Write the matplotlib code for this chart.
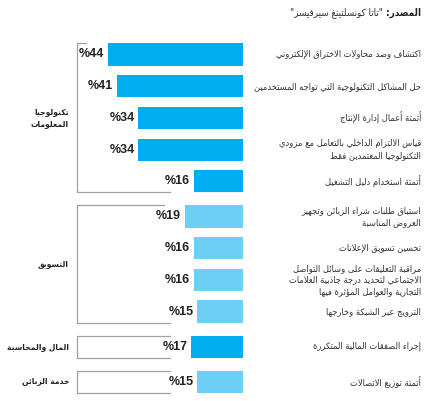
import matplotlib
matplotlib.use("Agg")
import matplotlib.pyplot as plt
from matplotlib.transforms import blended_transform_factory

# --- data ---
labels = [
    ["اكتشاف وصد محاولات الاختراق الإلكتروني"],
    ["حل المشاكل التكنولوجية التي تواجه المستخدمين"],
    ["أتمتة أعمال إدارة الإنتاج"],
    ["قياس الالتزام الداخلي بالتعامل مع مزودي", "التكنولوجيا المعتمدين فقط"],
    ["أتمتة استخدام دليل التشغيل"],
    ["استباق طلبات شراء الزبائن وتجهيز", "العروض المناسبة"],
    ["تحسين تسويق الإعلانات"],
    ["مراقبة التعليقات على وسائل التواصل", "الاجتماعي لتحديد درجة جاذبية العلامات", "التجارية والعوامل المؤثرة فيها"],
    ["الترويج عبر الشبكة وخارجها"],
    ["إجراء الصفقات المالية المتكررة"],
    ["أتمتة توزيع الاتصالات"],
]
values = [44, 41, 34, 34, 16, 19, 16, 16, 15, 17, 15]
group_of = [0, 0, 0, 0, 0, 1, 1, 1, 1, 2, 3]
group_names = [["تكنولوجيا", "المعلومات"], ["التسويق"], ["المال والمحاسبة"], ["خدمة الزبائن"]]
group_colors = ["#00aeef", "#6dcff6", "#00aeef", "#6dcff6"]
source_label = "المصدر:"
source_text = "\"تاتا كونسلتينغ سيرفيسز\""

# --- minimal arabic shaping (matplotlib has no complex text layout) ---
F = {
    'ء': (0xFE80,), 'آ': (0xFE81, 0xFE82), 'أ': (0xFE83, 0xFE84), 'ؤ': (0xFE85, 0xFE86),
    'إ': (0xFE87, 0xFE88), 'ئ': (0xFE89, 0xFE8A, 0xFE8B, 0xFE8C), 'ا': (0xFE8D, 0xFE8E),
    'ب': (0xFE8F, 0xFE90, 0xFE91, 0xFE92), 'ة': (0xFE93, 0xFE94),
    'ت': (0xFE95, 0xFE96, 0xFE97, 0xFE98), 'ث': (0xFE99, 0xFE9A, 0xFE9B, 0xFE9C),
    'ج': (0xFE9D, 0xFE9E, 0xFE9F, 0xFEA0), 'ح': (0xFEA1, 0xFEA2, 0xFEA3, 0xFEA4),
    'خ': (0xFEA5, 0xFEA6, 0xFEA7, 0xFEA8), 'د': (0xFEA9, 0xFEAA), 'ذ': (0xFEAB, 0xFEAC),
    'ر': (0xFEAD, 0xFEAE), 'ز': (0xFEAF, 0xFEB0), 'س': (0xFEB1, 0xFEB2, 0xFEB3, 0xFEB4),
    'ش': (0xFEB5, 0xFEB6, 0xFEB7, 0xFEB8), 'ص': (0xFEB9, 0xFEBA, 0xFEBB, 0xFEBC),
    'ض': (0xFEBD, 0xFEBE, 0xFEBF, 0xFEC0), 'ط': (0xFEC1, 0xFEC2, 0xFEC3, 0xFEC4),
    'ظ': (0xFEC5, 0xFEC6, 0xFEC7, 0xFEC8), 'ع': (0xFEC9, 0xFECA, 0xFECB, 0xFECC),
    'غ': (0xFECD, 0xFECE, 0xFECF, 0xFED0), 'ف': (0xFED1, 0xFED2, 0xFED3, 0xFED4),
    'ق': (0xFED5, 0xFED6, 0xFED7, 0xFED8), 'ك': (0xFED9, 0xFEDA, 0xFEDB, 0xFEDC),
    'ل': (0xFEDD, 0xFEDE, 0xFEDF, 0xFEE0), 'م': (0xFEE1, 0xFEE2, 0xFEE3, 0xFEE4),
    'ن': (0xFEE5, 0xFEE6, 0xFEE7, 0xFEE8), 'ه': (0xFEE9, 0xFEEA, 0xFEEB, 0xFEEC),
    'و': (0xFEED, 0xFEEE), 'ى': (0xFEEF, 0xFEF0), 'ي': (0xFEF1, 0xFEF2, 0xFEF3, 0xFEF4),
    'لآ': (0xFEF5, 0xFEF6), 'لأ': (0xFEF7, 0xFEF8), 'لإ': (0xFEF9, 0xFEFA), 'لا': (0xFEFB, 0xFEFC),
}


def ar(text):
    toks = []
    i = 0
    while i < len(text):
        if text[i] == 'ل' and i + 1 < len(text) and text[i:i + 2] in F:
            toks.append(text[i:i + 2])
            i += 2
        else:
            toks.append(text[i])
            i += 1
    out = []
    for k, t in enumerate(toks):
        f = F.get(t)
        if f is None:
            out.append(t)
            continue
        prev = toks[k - 1] if k > 0 else None
        nxt = toks[k + 1] if k + 1 < len(toks) else None
        jp = prev is not None and len(F.get(prev, ())) == 4
        jn = len(f) == 4 and nxt is not None and len(F.get(nxt, ())) >= 2
        if len(f) == 1:
            idx = 0
        elif len(f) == 2:
            idx = 1 if jp else 0
        else:
            idx = (3 if jn else 1) if jp else (2 if jn else 0)
        out.append(chr(f[idx]))
    return "".join(out)[::-1]


# --- layout ---
W, H = 427, 401
gap = 0.11
ypos = [i + gap * g for i, g in enumerate(group_of)]
bar_h = 0.7
px_per_unit = 31.7
ax_left, ax_right = 77, 243
top_px = 54.5 - 0.5 * px_per_unit
bot_px = top_px + (ypos[-1] + 1) * px_per_unit

fig = plt.figure(figsize=(W / 100, H / 100), dpi=100)
ax = fig.add_axes([ax_left / W, 1 - bot_px / H, (ax_right - ax_left) / W, (bot_px - top_px) / H])
ax.set_xlim(54, 0)
ax.set_ylim(ypos[-1] + 0.5, -0.5)
ax.axis("off")

colors = [group_colors[g] for g in group_of]
ax.barh(ypos, values, height=bar_h, color=colors)

for y, v in zip(ypos, values):
    ax.annotate("%" + str(v), (v, y), xytext=(-2.5, 0), textcoords="offset points",
                ha="right", va="center", fontsize=9, fontweight="bold",
                family=["Liberation Sans", "DejaVu Sans"], color="#222222")

ar_font = dict(family="DejaVu Sans", fontstretch="condensed")
tr = blended_transform_factory(fig.transFigure, ax.transData)
for y, lines in zip(ypos, labels):
    txt = "\n".join(ar(s) for s in lines)
    fig.text(421 / W, y, txt, transform=tr, ha="right", va="center", fontsize=6.7,
             color="#333333", linespacing=1.38, **ar_font)

# group brackets
line_kw = dict(color="#a0a0a0", lw=0.9, clip_on=False)
for g, name in enumerate(group_names):
    ys = [y for y, gg in zip(ypos, group_of) if gg == g]
    y0, y1 = ys[0] - bar_h / 2, ys[-1] + bar_h / 2
    top_end = {0: 51, 1: 25.7}.get(g, 23.8)
    ax.plot([top_end, 54, 54, 23.8], [y0, y0, y1, y1], **line_kw)
    fig.text(69 / W, (y0 + y1) / 2, "\n".join(ar(s) for s in name), transform=tr,
             ha="right", va="center", fontsize=6.0, fontweight="bold",
             color="#222222", linespacing=1.35, **ar_font)

# source line
t1 = fig.text(421 / W, 1 - 13 / H, ar(source_label), ha="right", va="center",
              fontsize=7.2, fontweight="bold", color="#222222", **ar_font)
fig.canvas.draw()
bb = t1.get_window_extent()
fig.text((bb.x0 - 3) / W, 1 - 13 / H, ar(source_text), ha="right", va="center",
         fontsize=7.0, color="#333333", **ar_font)

fig.savefig("out.png", dpi=100)
